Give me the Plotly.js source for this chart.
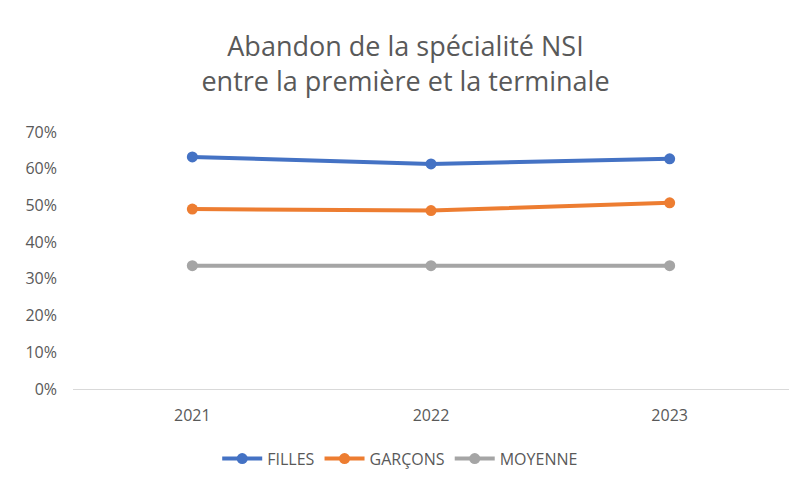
<!DOCTYPE html>
<html>
<head>
<meta charset="utf-8">
<script src="https://cdn.plot.ly/plotly-3.0.1.min.js"></script>
<style>html,body{margin:0;padding:0;background:#fff;}#chart{width:803px;height:488px;}</style>
</head>
<body>
<div id="chart"></div>
<script>
var years = ["2021", "2022", "2023"];
var filles = [0.632, 0.613, 0.627];
var garcons = [0.490, 0.486, 0.507];
var moyenne = [0.336, 0.336, 0.336];
var yTicks = [0, 0.1, 0.2, 0.3, 0.4, 0.5, 0.6, 0.7];
var yTickText = ["0%", "10%", "20%", "30%", "40%", "50%", "60%", "70%"];

function series(name, y, color) {
  return {
    x: years, y: y, name: name, type: "scatter", mode: "lines+markers",
    line: {color: color, width: 4},
    marker: {color: color, size: 11},
    hoverinfo: "none"
  };
}
var data = [
  series("FILLES", filles, "#4472C4"),
  series("GARÇONS", garcons, "#ED7D31"),
  series("MOYENNE", moyenne, "#A5A5A5")
];
var font = "Open Sans, sans-serif";
var layout = {
  width: 803, height: 488,
  margin: {l: 73, r: 14, t: 132, b: 96},
  paper_bgcolor: "#fff", plot_bgcolor: "#fff",
  font: {family: font, color: "#595959", size: 16},
  title: {
    text: "Abandon de la spécialité NSI<br>entre la première et la terminale",
    font: {family: font, size: 27, color: "#595959"},
    x: 0.505, xanchor: "center", xref: "container",
    y: 0.885, yanchor: "middle", yref: "container"
  },
  xaxis: {
    type: "category", range: [-0.5, 2.5],
    showgrid: false, zeroline: false,
    showline: true, linecolor: "#D9D9D9", linewidth: 1,
    ticks: "", ticklabelstandoff: 12,
    tickfont: {family: font, size: 16, color: "#595959"}
  },
  yaxis: {
    range: [0, 0.7], tickvals: yTicks, ticktext: yTickText,
    showgrid: false, zeroline: false, showline: false,
    ticks: "", ticklabelstandoff: 15,
    tickfont: {family: font, size: 16, color: "#595959"}
  },
  showlegend: true,
  legend: {
    orientation: "h", x: 0.457, xanchor: "center", y: -0.205, yanchor: "top",
    font: {family: font, size: 16, color: "#595959"},
    itemwidth: 40, tracegroupgap: 0
  }
};
Plotly.newPlot("chart", data, layout, {staticPlot: true, displayModeBar: false});
</script>
</body>
</html>
